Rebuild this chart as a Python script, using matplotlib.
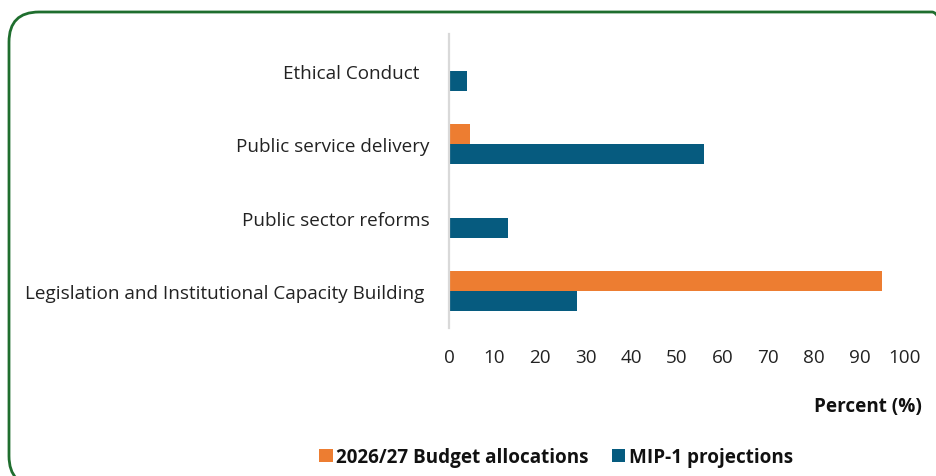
import matplotlib.pyplot as plt
from matplotlib.patches import FancyBboxPatch

plt.rcParams['font.family'] = ['Open Sans', 'DejaVu Sans']

# categories listed bottom to top
categories = ['Legislation and Institutional Capacity Building ',
              'Public sector reforms',
              'Public service delivery',
              'Ethical Conduct  ']
budget = [95.0, 0.0, 4.6, 0.0]
mip = [28.0, 13.0, 56.0, 3.9]
series_names = ['2026/27 Budget allocations', 'MIP-1 projections']
xticks = [0, 10, 20, 30, 40, 50, 60, 70, 80, 90, 100]

orange = '#ED7D31'
blue = '#065B7F'
green = '#1F6E2E'
fs = 13.6

fig = plt.figure(figsize=(9.36, 4.77), dpi=100)
ax = fig.add_axes([0.4797, 0.311, 0.4872, 0.6146])

pos = list(range(len(categories)))
h = 0.273
ax.barh([p + h / 2 for p in pos], budget, height=h, color=orange, label=series_names[0])
ax.barh([p - h / 2 for p in pos], mip, height=h, color=blue, label=series_names[1])

ax.set_ylim(-0.5, 3.5)
ax.set_xlim(0, 100)
ax.set_xticks(xticks)
ax.set_yticks(pos)
ax.set_yticklabels(categories)
ax.tick_params(axis='both', length=0, labelsize=fs, colors='#222222')
ax.tick_params(axis='x', pad=15)
ax.tick_params(axis='y', pad=14)

for s in ['top', 'right', 'bottom']:
    ax.spines[s].set_visible(False)
ax.spines['left'].set_color('#D9D9D9')
ax.spines['left'].set_linewidth(1.6)

fig.text(0.9848, 0.147, 'Percent (%)', ha='right', va='center',
         fontsize=fs, fontweight='bold', color='#111111')

leg = fig.legend(loc='center', bbox_to_anchor=(0.594, 0.04), ncol=2, frameon=False,
                 handlelength=0.7, handleheight=0.7, handletextpad=0.2,
                 columnspacing=1.2, prop={'size': fs, 'weight': 'bold'})
for t in leg.get_texts():
    t.set_color('#111111')

# rounded green frame around the whole chart
frame = FancyBboxPatch((0.09, -0.1), 9.53, 4.64 + 0.1,
                       boxstyle='round,pad=0,rounding_size=0.3',
                       transform=fig.dpi_scale_trans, fill=False,
                       edgecolor=green, linewidth=2.0, clip_on=False)
fig.patches.append(frame)

fig.savefig('out.png', dpi=100)
